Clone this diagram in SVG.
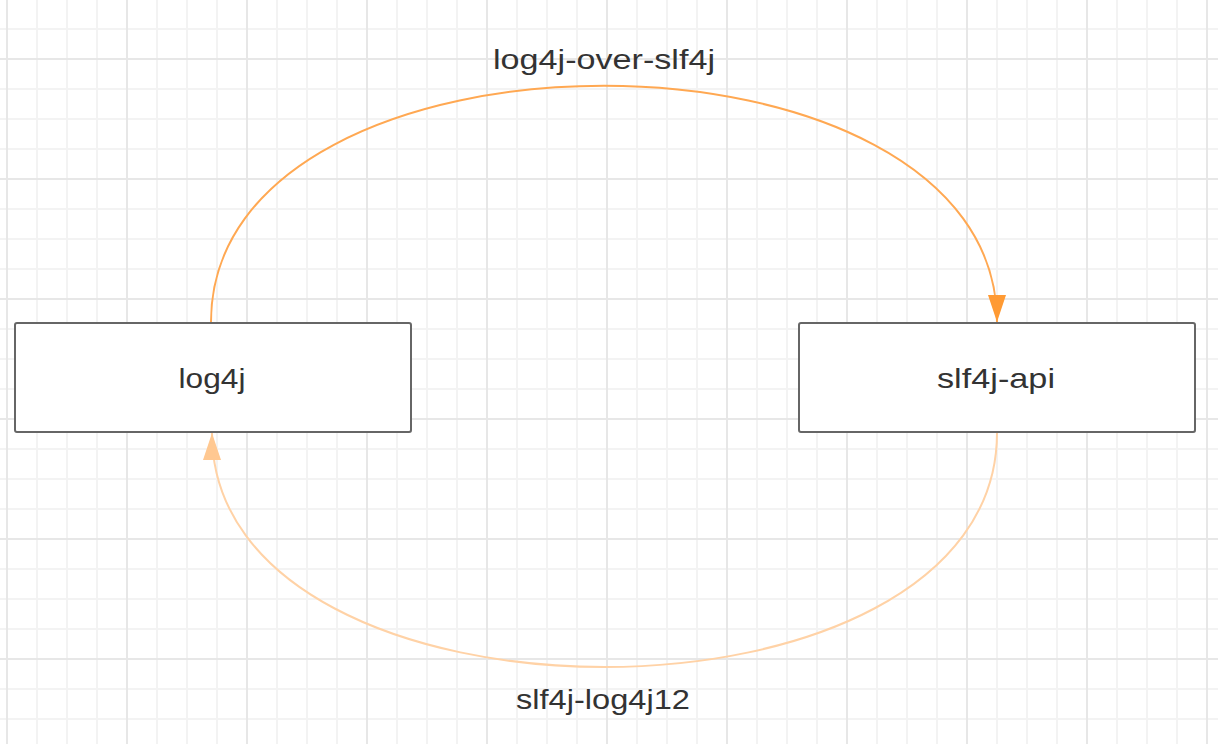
<svg xmlns="http://www.w3.org/2000/svg" width="1218" height="744" viewBox="0 0 1218 744">
  <style>
    .box { fill: #ffffff; stroke: #666666; stroke-width: 2; }
    .shadow { fill: #999999; opacity: 0.35; }
    .label { font-family: "Liberation Sans", Arial, sans-serif; font-size: 28px; fill: #333333; text-anchor: middle; }
    .edge-top { fill: none; stroke: #FFA852; stroke-width: 2; }
    .edge-bottom { fill: none; stroke: #FFD2A6; stroke-width: 2; }
  </style>
  <defs>
    <pattern id="grid" patternUnits="userSpaceOnUse" x="-8" y="44" width="120" height="120">
      <g fill="#f3f3f3">
        <rect x="44" y="0" width="2" height="120"/>
        <rect x="74" y="0" width="2" height="120"/>
        <rect x="104" y="0" width="2" height="120"/>
        <rect x="0" y="44" width="120" height="2"/>
        <rect x="0" y="74" width="120" height="2"/>
        <rect x="0" y="104" width="120" height="2"/>
      </g>
      <g fill="#e7e7e7">
        <rect x="14" y="0" width="2" height="120"/>
        <rect x="0" y="14" width="120" height="2"/>
      </g>
    </pattern>
    <marker id="arrowTop" markerUnits="userSpaceOnUse" markerWidth="27" markerHeight="18" refX="27" refY="9" orient="auto" overflow="visible">
      <path d="M0,0 L27,9 L0,18 z" fill="#FF9A33"/>
    </marker>
    <marker id="arrowBottom" markerUnits="userSpaceOnUse" markerWidth="27" markerHeight="18" refX="27" refY="9" orient="auto" overflow="visible">
      <path d="M0,0 L27,9 L0,18 z" fill="#FFC891"/>
    </marker>
  </defs>

  <rect x="0" y="0" width="1218" height="744" fill="#ffffff"/>
  <rect x="0" y="0" width="1218" height="744" fill="url(#grid)"/>

  <g id="connectors">
    <g id="edge-log4j-over-slf4j">
      <path class="edge-top" d="M211,322 C211,7 997,7 997,322" marker-end="url(#arrowTop)"/>
      <text class="label" x="604" y="69" textLength="222" lengthAdjust="spacingAndGlyphs">log4j-over-slf4j</text>
    </g>
    <g id="edge-slf4j-log4j12">
      <path class="edge-bottom" d="M997,433 C997,745 212,745 212,433" marker-end="url(#arrowBottom)"/>
      <text class="label" x="603" y="709" textLength="174" lengthAdjust="spacingAndGlyphs">slf4j-log4j12</text>
    </g>
  </g>

  <g id="node-log4j">
    <rect class="shadow" x="16" y="324" width="396" height="109" rx="2"/>
    <rect class="box" x="15" y="323" width="396" height="109" rx="2"/>
    <text class="label" x="212" y="388" textLength="67" lengthAdjust="spacingAndGlyphs">log4j</text>
  </g>

  <g id="node-slf4j-api">
    <rect class="shadow" x="800" y="324" width="396" height="109" rx="2"/>
    <rect class="box" x="799" y="323" width="396" height="109" rx="2"/>
    <text class="label" x="996" y="388" textLength="118" lengthAdjust="spacingAndGlyphs">slf4j-api</text>
  </g>
</svg>
